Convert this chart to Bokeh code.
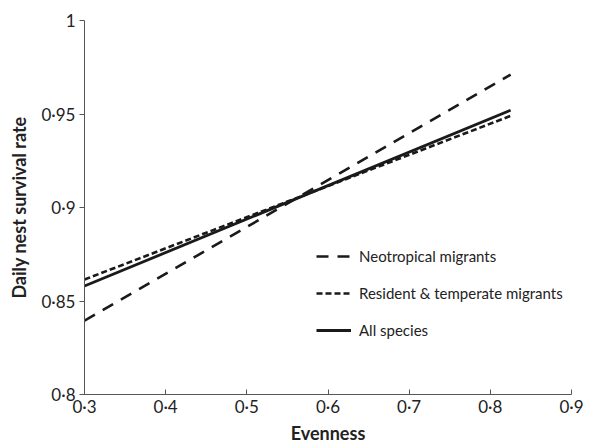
from bokeh.plotting import figure
from bokeh.models import Range1d, FixedTicker, Legend, LegendItem
from bokeh.embed import file_html
from bokeh.resources import INLINE

# Data
evenness = [0.3, 0.825]
neotropical = [0.8395, 0.971]
resident = [0.8615, 0.949]
all_species = [0.858, 0.952]

x_ticks = [0.3, 0.4, 0.5, 0.6, 0.7, 0.8, 0.9]
x_labels = ["0·3", "0·4", "0·5", "0·6", "0·7", "0·8", "0·9"]
y_ticks = [0.8, 0.85, 0.9, 0.95, 1.0]
y_labels = ["0·8", "0·85", "0·9", "0·95", "1"]

FONT = "Lato"

p = figure(width=607, height=446, output_backend="svg", toolbar_location=None,
           x_range=Range1d(0.3, 0.9), y_range=Range1d(0.8, 1.0),
           min_border_left=84, min_border_right=36, min_border_top=20, min_border_bottom=50)
p.outline_line_color = None
p.grid.grid_line_color = None

r1 = p.line(evenness, neotropical, line_color="#1a1a1a", line_width=2.6, line_dash="12 9")
r2 = p.line(evenness, resident, line_color="#1a1a1a", line_width=2.6, line_dash="6 3")
r3 = p.line(evenness, all_species, line_color="#1a1a1a", line_width=2.8)

p.xaxis.ticker = FixedTicker(ticks=x_ticks)
p.xaxis.major_label_overrides = {t: l for t, l in zip(x_ticks, x_labels)}
p.yaxis.ticker = FixedTicker(ticks=y_ticks)
p.yaxis.major_label_overrides = {t: l for t, l in zip(y_ticks, y_labels)}

for ax in (p.xaxis, p.yaxis):
    ax.axis_line_color = "#555555"
    ax.major_tick_line_color = "#555555"
    ax.minor_tick_line_color = None
    ax.major_label_text_font = FONT
    ax.major_label_text_font_size = "17px"
    ax.major_label_text_color = "#222222"
    ax.axis_label_text_font = FONT
    ax.axis_label_text_font_size = "18px"
    ax.axis_label_text_font_style = "bold"
    ax.axis_label_text_color = "#222222"

p.xaxis.major_tick_in = 5
p.xaxis.major_tick_out = 0
p.xaxis.major_label_standoff = 1
p.xaxis.axis_label = "Evenness"
p.xaxis.axis_label_standoff = 2
p.yaxis.major_tick_in = 0
p.yaxis.major_tick_out = 5
p.yaxis.major_label_standoff = 4
p.yaxis.axis_label = "Daily nest survival rate"
p.yaxis.axis_label_standoff = 8

legend = Legend(items=[
    LegendItem(label="Neotropical migrants", renderers=[r1]),
    LegendItem(label="Resident & temperate migrants", renderers=[r2]),
    LegendItem(label="All species", renderers=[r3]),
], location=(232, 54), glyph_width=35, spacing=17,
    label_text_font=FONT, label_text_font_size="15px", label_text_color="#222222",
    border_line_color=None, background_fill_alpha=0, padding=4, label_standoff=8)
p.add_layout(legend)

open("out.html", "w").write(file_html(p, INLINE))
